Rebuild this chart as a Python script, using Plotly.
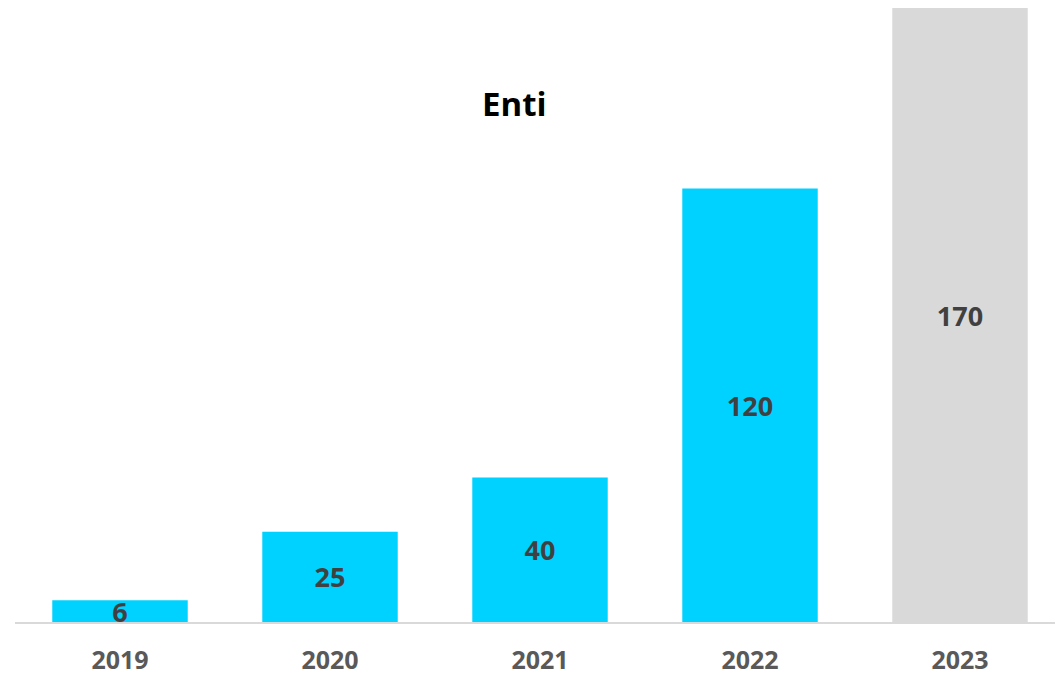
import plotly.graph_objects as go

# Enti per anno
anni = ["2019", "2020", "2021", "2022", "2023"]
enti = [6, 25, 40, 120, 170]
colori = ["#00D2FF", "#00D2FF", "#00D2FF", "#00D2FF", "#D9D9D9"]

fig = go.Figure()
fig.add_trace(go.Bar(
    x=anni, y=enti, marker_color=colori, marker_line_width=0,
    text=[f"<b>{v}</b>" for v in enti], textposition="inside",
    insidetextanchor="middle", constraintext="none", textangle=0,
    insidetextfont=dict(family="Open Sans", size=27, color="#404040"),
    hoverinfo="x+y",
))

# la pagina ha un margine di 8px, quindi la figura è un po' più piccola
fig.update_layout(
    title=dict(text="<b>Enti</b>", x=0.479, xanchor="center", y=0.855, yanchor="middle",
               font=dict(family="Open Sans", size=33, color="#000000")),
    width=1057, height=668,
    margin=dict(l=7, r=0, t=0, b=54),
    paper_bgcolor="white", plot_bgcolor="white",
    bargap=0.355, showlegend=False,
    xaxis=dict(type="category", showline=True, linecolor="#D9D9D9", linewidth=2, ticks="",
               tickfont=dict(family="Open Sans", size=25, color="#595959", weight="bold"),
               showgrid=False, fixedrange=True, ticklabelstandoff=15),
    yaxis=dict(range=[0, 170], visible=False, showgrid=False, fixedrange=True),
)

fig.write_html("out.html")
